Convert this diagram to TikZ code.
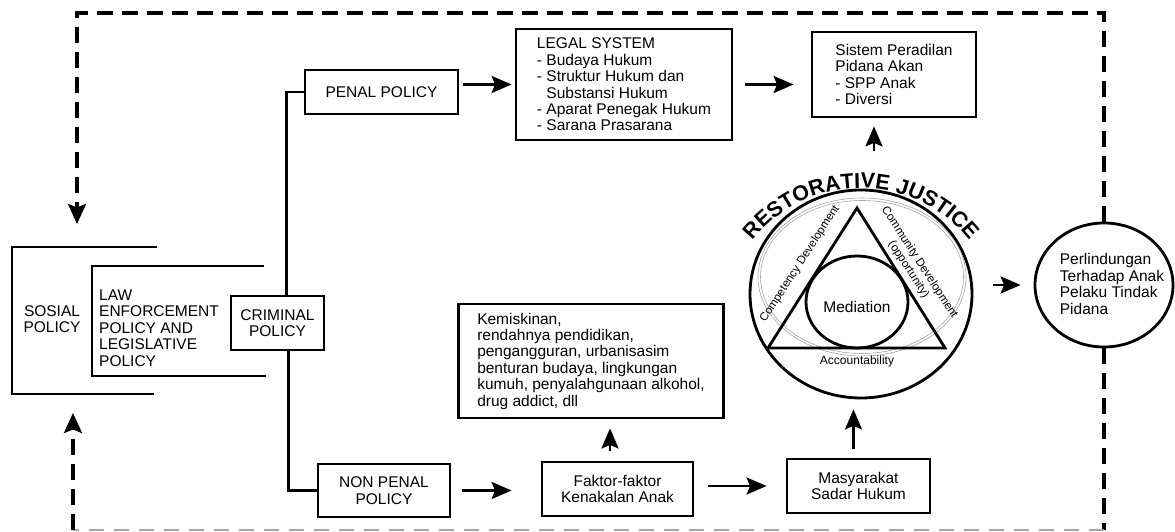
\documentclass[tikz,border=0pt]{standalone}
\usepackage{fontspec}
\setmainfont{Liberation Sans}
\usetikzlibrary{arrows.meta,shapes.geometric,decorations.text,calc}
\newcommand\dgBody{\fontsize{15.5}{16.4}\selectfont}
\newcommand\dgSmall{\fontsize{11.6}{13}\selectfont}
\newcommand\dgTitle{\fontsize{21.5}{21.5}\selectfont\bfseries}
\begin{document}
\begin{tikzpicture}[x=1pt,y=1pt,
  box/.style={draw, line width=2.8pt, inner sep=0pt, font=\dgBody},
  conn/.style={line width=2.8pt},
  arr/.style={line width=2.8pt, -{Stealth[length=20pt,width=17pt,inset=3.5pt]}},
  dline/.style={line width=3.2pt, dash pattern=on 16pt off 9pt},
  dtip/.style={-{Stealth[length=20pt,width=18pt,inset=3.5pt]}},
  gline/.style={line width=2pt, gray!70, dash pattern=on 15pt off 10pt},
  shape line/.style={line width=2.8pt}
]
\useasboundingbox (0,0) rectangle (1175,532);

% brackets (social policy / law enforcement)
\draw[shape line] (157,285) -- (12,285) -- (12,138) -- (154,138);
\draw[shape line] (264,266) -- (92,266) -- (92,156) -- (266,156);
\node[align=center, font=\dgBody, inner sep=0pt] (SOS) at (52,213) {SOSIAL\\POLICY};
\node[align=left, anchor=west, font=\dgBody, inner sep=0pt] (LAW) at (99,204) {LAW\\ENFORCEMENT\\POLICY AND\\LEGISLATIVE\\POLICY};

% boxes
\node[box, minimum width=93, minimum height=54, align=center] (CRIM) at (277.5,209) {CRIMINAL\\POLICY};
\node[box, minimum width=153, minimum height=44] (PENAL) at (381.5,440) {PENAL POLICY};
\node[box, minimum width=132, minimum height=53, align=center] (NP) at (384,41.5) {NON PENAL\\POLICY};
\node[box, minimum width=216, minimum height=111, align=left] (LEGAL) at (624,447.5)
  {LEGAL SYSTEM\\- Budaya Hukum\\- Struktur Hukum dan\\\phantom{- }Substansi Hukum\\- Aparat Penegak Hukum\\- Sarana Prasarana};
\node[box, minimum width=164, minimum height=85, align=left] (SIS) at (894,457.5)
  {Sistem Peradilan\\Pidana Akan\\- SPP Anak\\- Diversi};
\node[box, minimum width=265, minimum height=114, align=left] (KEM) at (591,171)
  {Kemiskinan,\\rendahnya pendidikan,\\pengangguran, urbanisasim\\benturan budaya, lingkungan\\kumuh, penyalahgunaan alkohol,\\drug addict, dll};
\node[box, minimum width=151, minimum height=54, align=center] (FAK) at (617.5,43) {Faktor-faktor\\Kenakalan Anak};
\node[box, minimum width=143, minimum height=54, align=center] (MASY) at (858.5,46) {Masyarakat\\Sadar Hukum};

% restorative justice
\node[draw, ellipse, line width=2.8pt, minimum width=222, minimum height=208, inner sep=0pt] (RJ) at (861,238) {};
\draw[gray!70, line width=0.6pt] (862,255) ellipse [x radius=104, y radius=79];
\draw[gray!70, line width=0.6pt] (862,255) ellipse [x radius=101.5, y radius=76.5];
\draw[shape line, line join=miter] (857,324) -- (945,184) -- (768,184) -- cycle;
\node[draw, ellipse, line width=2.8pt, minimum width=102, minimum height=92, inner sep=0pt] (MED) at (857,230) {};
\node[font=\dgBody, inner sep=0pt] (MEDT) at (857,225) {Mediation};
\node[font=\fontsize{12}{12}\selectfont, inner sep=0pt] (ACC) at (857,171) {Accountability};
\node[font=\dgSmall, rotate=57, inner sep=0pt] (COMP) at (800,268) {Competency Development};
\node[font=\dgSmall, rotate=-57, align=center, inner sep=0pt] (COMM) at (914,266) {Community Development\\(opportunity)};
\path[decorate, decoration={text along path, text align=center,
  text={|\dgTitle|RESTORATIVE JUSTICE}}] (723,206) arc[start angle=180, end angle=0, radius=138];

% protection circle
\node[draw, ellipse, line width=2.8pt, minimum width=138, minimum height=124, inner sep=0pt] (PERL) at (1104,247) {};
\node[align=left, font=\dgBody, inner sep=0pt] (PERLT) at (1112,248) {Perlindungan\\Terhadap Anak\\Pelaku Tindak\\Pidana};

% connectors
\draw[conn] ([xshift=9pt]CRIM.north) |- (PENAL.west);
\draw[conn] ([xshift=11pt]CRIM.south) |- (NP.west);
\draw[arr, shorten <=4pt, shorten >=3pt] (PENAL.east |- LEGAL.west) -- (LEGAL.west);
\draw[arr, shorten <=12pt, shorten >=17pt] (LEGAL.east) -- (LEGAL.east -| SIS.west);
\coordinate (rjtop) at (874,381);
\draw[arr, shorten >=8pt] (rjtop) -- (rjtop |- SIS.south);
\draw[arr, shorten <=11pt, shorten >=29pt] (NP.east) -- (NP.east -| FAK.west);
\draw[arr, shorten <=10pt, shorten >=9pt] ([xshift=-7.5pt]FAK.north) -- ([xshift=-7.5pt]FAK.north |- KEM.south);
\draw[arr, shorten <=14pt, shorten >=19pt] (MASY.west -| FAK.east) -- (MASY.west);
\draw[arr, shorten <=9pt, shorten >=10pt] ([xshift=-5pt]MASY.north) -- ([xshift=-5pt]MASY.north |- RJ.south);
\draw[arr, shorten <=20pt, shorten >=13pt] (PERL.west -| RJ.east) -- (PERL.west);

% dashed feedback frame
\coordinate (tl) at (77,519);
\coordinate (sosA) at (77,308);
\coordinate (br) at (1104,2);
\coordinate (bl) at (73,2);
\coordinate (sosB) at (73,119);
\draw[dline, dtip] (PERL.north) -- (PERL.north |- tl) -- (tl) -- (sosA);
\draw[dline] (PERL.south) -- (br);
\draw[gline] (br) -- (bl);
\draw[dline, dtip] (bl) -- (sosB);
\end{tikzpicture}
\end{document}
